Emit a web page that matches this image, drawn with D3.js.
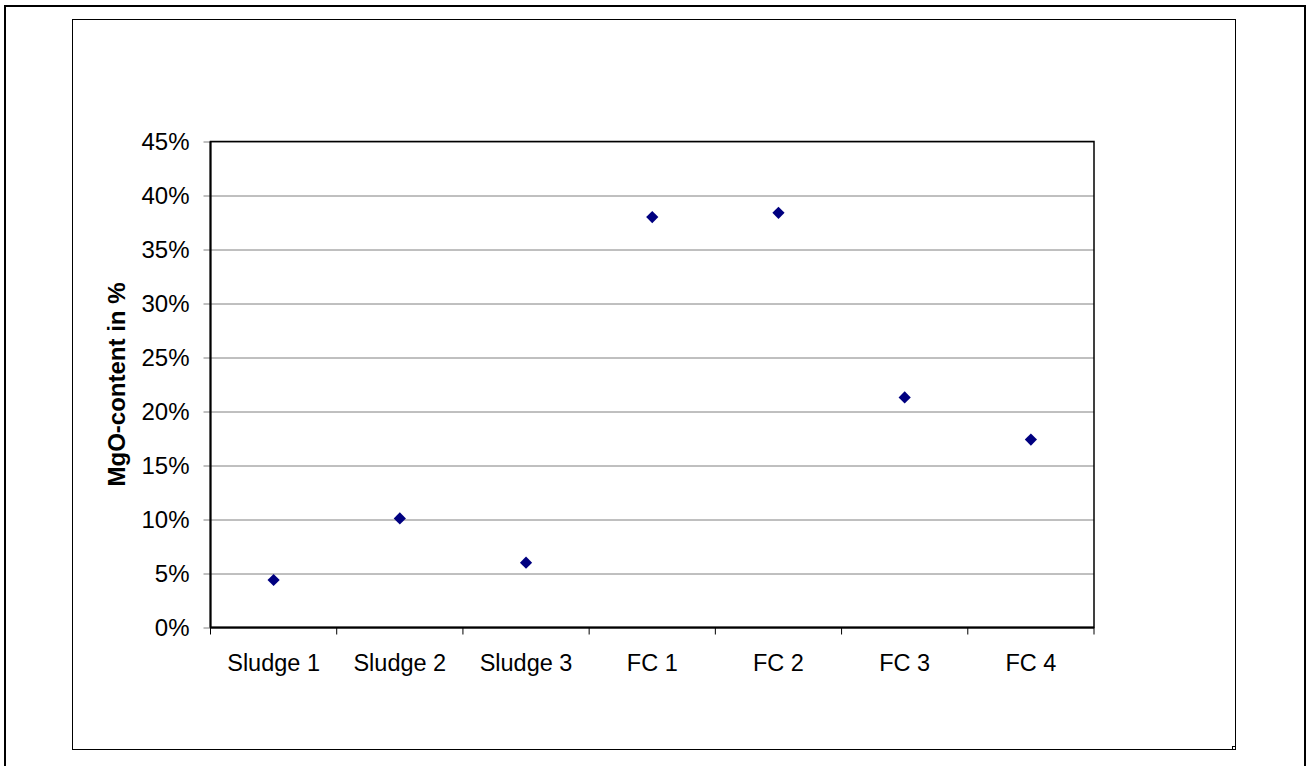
<!DOCTYPE html>
<html>
<head>
<meta charset="utf-8">
<script src="https://cdn.jsdelivr.net/npm/d3@7"></script>
<style>
  html, body { margin: 0; padding: 0; background: #fff; }
  svg { display: block; }
  text { font-family: "Liberation Sans", Arial, sans-serif; fill: #000; }
</style>
</head>
<body>
<svg id="chart" width="1307" height="766"></svg>
<script>
// MgO content per sample
const categories = ["Sludge 1", "Sludge 2", "Sludge 3", "FC 1", "FC 2", "FC 3", "FC 4"];
const mgoContent = [0.044, 0.101, 0.060, 0.380, 0.384, 0.213, 0.174];
const yTicks = [0, 0.05, 0.10, 0.15, 0.20, 0.25, 0.30, 0.35, 0.40, 0.45];
const yTitle = "MgO-content in %";

const svg = d3.select("#chart");

// outer frame (bottom edge runs past the page)
svg.append("rect")
  .attr("x", 5).attr("y", 6).attr("width", 1300).attr("height", 800)
  .attr("fill", "none").attr("stroke", "#000").attr("stroke-width", 2);

// chart area frame
svg.append("rect")
  .attr("x", 72.5).attr("y", 19.5).attr("width", 1163).attr("height", 730)
  .attr("fill", "#fff").attr("stroke", "#000").attr("stroke-width", 1);
svg.append("rect")
  .attr("x", 1232.5).attr("y", 746.5).attr("width", 3).attr("height", 3)
  .attr("fill", "none").attr("stroke", "#000").attr("stroke-width", 1);

const plot = { left: 210.5, right: 1094, top: 141.5, bottom: 627.5 };

const x = d3.scaleBand().domain(categories).range([plot.left, plot.right]).padding(0);
const y = d3.scaleLinear().domain([0, 0.45]).range([plot.bottom, plot.top]);

// horizontal gridlines with ticks to the left
const yAxis = d3.axisLeft(y).tickValues(yTicks)
  .tickSize(plot.right - plot.left + 7).tickSizeOuter(0)
  .tickFormat(d3.format(".0%"));
const gy = svg.append("g")
  .attr("transform", `translate(${plot.right},0)`)
  .call(yAxis);
gy.select(".domain").remove();
gy.selectAll(".tick line").attr("stroke", "#808080").attr("stroke-width", 1);
gy.selectAll(".tick text")
  .attr("font-size", 24).attr("fill", "#000")
  .attr("x", -(plot.right - plot.left) - 21)
  .attr("dy", "0.35em");

// plot border
svg.append("rect")
  .attr("x", plot.left).attr("y", plot.top)
  .attr("width", plot.right - plot.left).attr("height", plot.bottom - plot.top)
  .attr("fill", "none").attr("stroke", "#000").attr("stroke-width", 1.5);
svg.append("line")
  .attr("x1", plot.left).attr("x2", plot.left)
  .attr("y1", plot.top).attr("y2", plot.bottom)
  .attr("stroke", "#000").attr("stroke-width", 2);
svg.append("line")
  .attr("x1", plot.left).attr("x2", plot.right)
  .attr("y1", plot.bottom).attr("y2", plot.bottom)
  .attr("stroke", "#000").attr("stroke-width", 2);

// category axis: ticks at band boundaries, labels centred in bands
const boundaries = categories.map(c => x(c)).concat([x(categories[categories.length - 1]) + x.bandwidth()]);
svg.append("g").selectAll("line").data(boundaries).join("line")
  .attr("x1", d => d).attr("x2", d => d)
  .attr("y1", plot.bottom).attr("y2", plot.bottom + 7)
  .attr("stroke", "#000").attr("stroke-width", 1);
svg.append("g").selectAll("text").data(categories).join("text")
  .attr("x", d => x(d) + x.bandwidth() / 2)
  .attr("y", 670.5)
  .attr("text-anchor", "middle")
  .attr("font-size", 23.5)
  .text(d => d);

// y-axis title
svg.append("text")
  .attr("transform", `translate(125,${(plot.top + plot.bottom) / 2}) rotate(-90)`)
  .attr("text-anchor", "middle")
  .attr("font-size", 24)
  .attr("font-weight", "bold")
  .text(yTitle);

// diamond markers
const diamond = d3.symbol().type(d3.symbolDiamond2).size(95);
svg.append("g").selectAll("path").data(categories).join("path")
  .attr("d", diamond)
  .attr("transform", (d, i) => `translate(${x(d) + x.bandwidth() / 2},${y(mgoContent[i])})`)
  .attr("fill", "#000080");
</script>
</body>
</html>
